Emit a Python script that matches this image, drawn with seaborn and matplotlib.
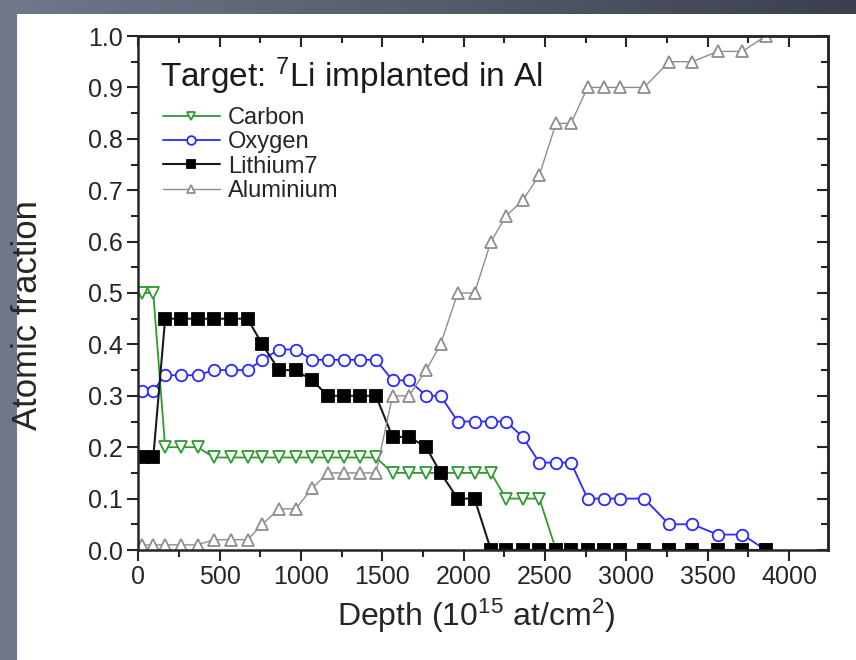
import numpy as np
import pandas as pd
import matplotlib
matplotlib.use("Agg")
import matplotlib.pyplot as plt
import seaborn as sns
from matplotlib.ticker import MultipleLocator, FormatStrFormatter
from matplotlib import font_manager
from matplotlib.patches import Rectangle

# ---------------- data ----------------
depth = [25, 92, 165, 263, 365, 465, 570, 672, 762, 865, 967, 1069, 1166, 1266,
         1363, 1461, 1563, 1664, 1770, 1858, 1964, 2067, 2168, 2261, 2363, 2466,
         2568, 2660, 2762, 2865, 2963, 3110, 3263, 3407, 3561, 3714, 3857]
carbon = [0.50, 0.50, 0.20, 0.20, 0.20, 0.18, 0.18, 0.18, 0.18, 0.18, 0.18, 0.18,
          0.18, 0.18, 0.18, 0.18, 0.15, 0.15, 0.15, 0.15, 0.15, 0.15, 0.15, 0.10,
          0.10, 0.10, 0.0, 0.0, 0.0, 0.0, 0.0, 0.0, 0.0, 0.0, 0.0, 0.0, 0.0]
oxygen = [0.31, 0.31, 0.34, 0.34, 0.34, 0.35, 0.35, 0.35, 0.37, 0.39, 0.39, 0.37,
          0.37, 0.37, 0.37, 0.37, 0.33, 0.33, 0.30, 0.30, 0.25, 0.25, 0.25, 0.25,
          0.22, 0.17, 0.17, 0.17, 0.10, 0.10, 0.10, 0.10, 0.05, 0.05, 0.03, 0.03, 0.0]
lithium7 = [0.18, 0.18, 0.45, 0.45, 0.45, 0.45, 0.45, 0.45, 0.40, 0.35, 0.35, 0.33,
            0.30, 0.30, 0.30, 0.30, 0.22, 0.22, 0.20, 0.15, 0.10, 0.10, 0.0, 0.0,
            0.0, 0.0, 0.0, 0.0, 0.0, 0.0, 0.0, 0.0, 0.0, 0.0, 0.0, 0.0, 0.0]
aluminium = [0.01, 0.01, 0.01, 0.01, 0.01, 0.02, 0.02, 0.02, 0.05, 0.08, 0.08, 0.12,
             0.15, 0.15, 0.15, 0.15, 0.30, 0.30, 0.35, 0.40, 0.50, 0.50, 0.60, 0.65,
             0.68, 0.73, 0.83, 0.83, 0.90, 0.90, 0.90, 0.90, 0.95, 0.95, 0.97, 0.97, 1.0]
series_names = ["Carbon", "Oxygen", "Lithium7", "Aluminium"]

title_text = r"Target: $^{7}$Li implanted in Al"
x_label = r"Depth (10$^{15}$ at/cm$^{2}$)"
y_label = "Atomic fraction"

# ---------------- style ----------------
sns.set_style("ticks")
names = {f.name for f in font_manager.fontManager.ttflist}
main_font = "Liberation Sans"
tick_font = "Liberation Sans Narrow" if "Liberation Sans Narrow" in names else "Liberation Sans"
plt.rcParams["font.family"] = [main_font, "DejaVu Sans"]
plt.rcParams["mathtext.default"] = "regular"
plt.rcParams["mathtext.fontset"] = "custom"
plt.rcParams["mathtext.rm"] = main_font

W, H = 856, 660
fig = plt.figure(figsize=(W / 100, H / 100), dpi=100)

# slate frame background with gradient, white panel
bg = fig.add_axes([0, 0, 1, 1], zorder=-10)
grad = np.linspace(0, 1, 256)[None, :, None]
c0 = np.array([112, 120, 137]) / 255.0
c1 = np.array([58, 64, 78]) / 255.0
img = c0 * (1 - grad) + c1 * grad
bg.imshow(img, aspect="auto", extent=[0, 1, 0, 1])
bg.add_patch(Rectangle((17 / W, 0), 1, 1 - 14 / H, color="white", lw=0))
bg.set_xlim(0, 1)
bg.set_ylim(0, 1)
bg.axis("off")

ax = fig.add_axes([138.3 / W, 1 - 550 / H, (828 - 138.3) / W, (550 - 36) / H])
ax.set_facecolor("white")

styles = {
    "Carbon": dict(color="#2f9a2f", marker="v", mfc="white", mec="#2f9a2f", lw=1.3),
    "Oxygen": dict(color="#2a2aff", marker="o", mfc="white", mec="#2a2aff", lw=1.3),
    "Lithium7": dict(color="#1a1a1a", marker="s", mfc="black", mec="black", lw=1.5),
    "Aluminium": dict(color="#8e8e8e", marker="^", mfc="white", mec="#8e8e8e", lw=1.0),
}
values = {"Carbon": carbon, "Oxygen": oxygen, "Lithium7": lithium7, "Aluminium": aluminium}

for name in series_names:
    st = styles[name]
    sns.lineplot(x=depth, y=values[name], ax=ax, color=st["color"], lw=st["lw"],
                 marker=st["marker"], markersize=8.3, markerfacecolor=st["mfc"],
                 markeredgecolor=st["mec"], markeredgewidth=1.3, label=name,
                 sort=False, estimator=None)

ax.set_xlim(0, 4240)
ax.set_ylim(0, 1.0)
ax.xaxis.set_major_locator(MultipleLocator(500))
ax.xaxis.set_minor_locator(MultipleLocator(250))
ax.yaxis.set_major_locator(MultipleLocator(0.1))
ax.yaxis.set_minor_locator(MultipleLocator(0.05))
ax.yaxis.set_major_formatter(FormatStrFormatter("%.1f"))
ax.tick_params(which="major", direction="out", length=8, width=1.5, labelsize=18, pad=3)
ax.tick_params(which="minor", direction="out", length=5, width=1.5)
for lab in ax.get_xticklabels() + ax.get_yticklabels():
    lab.set_fontfamily([tick_font, "DejaVu Sans"])
for sp in ax.spines.values():
    sp.set_linewidth(1.8)
    sp.set_visible(True)

top = ax.secondary_xaxis("top")
top.xaxis.set_major_locator(MultipleLocator(500))
top.xaxis.set_minor_locator(MultipleLocator(250))
top.tick_params(which="both", direction="in", labeltop=False, width=1.5)
top.tick_params(which="major", length=8)
top.tick_params(which="minor", length=5)
right = ax.secondary_yaxis("right")
right.yaxis.set_major_locator(MultipleLocator(0.1))
right.yaxis.set_minor_locator(MultipleLocator(0.05))
right.tick_params(which="both", direction="in", labelright=False, width=1.5)
right.tick_params(which="major", length=8)
right.tick_params(which="minor", length=5)
for s in (top, right):
    for sp in s.spines.values():
        sp.set_linewidth(1.8)

ax.set_xlabel(x_label, fontsize=23)
ax.xaxis.set_label_coords(0.49, -0.091)
ax.set_ylabel(y_label, fontsize=25)
ax.yaxis.set_label_coords(-0.137, 0.457)

ax.text(0.031, 0.922, title_text, transform=ax.transAxes, fontsize=24,
        ha="left", va="center", color="#1a1a1a")

leg = ax.legend(loc="upper left", bbox_to_anchor=(0.036, 0.862), frameon=False,
                fontsize=17, handlelength=2.4, handletextpad=0.35, labelspacing=0.1,
                borderpad=0, borderaxespad=0, markerscale=0.75)

fig.savefig("out.png", dpi=100)
